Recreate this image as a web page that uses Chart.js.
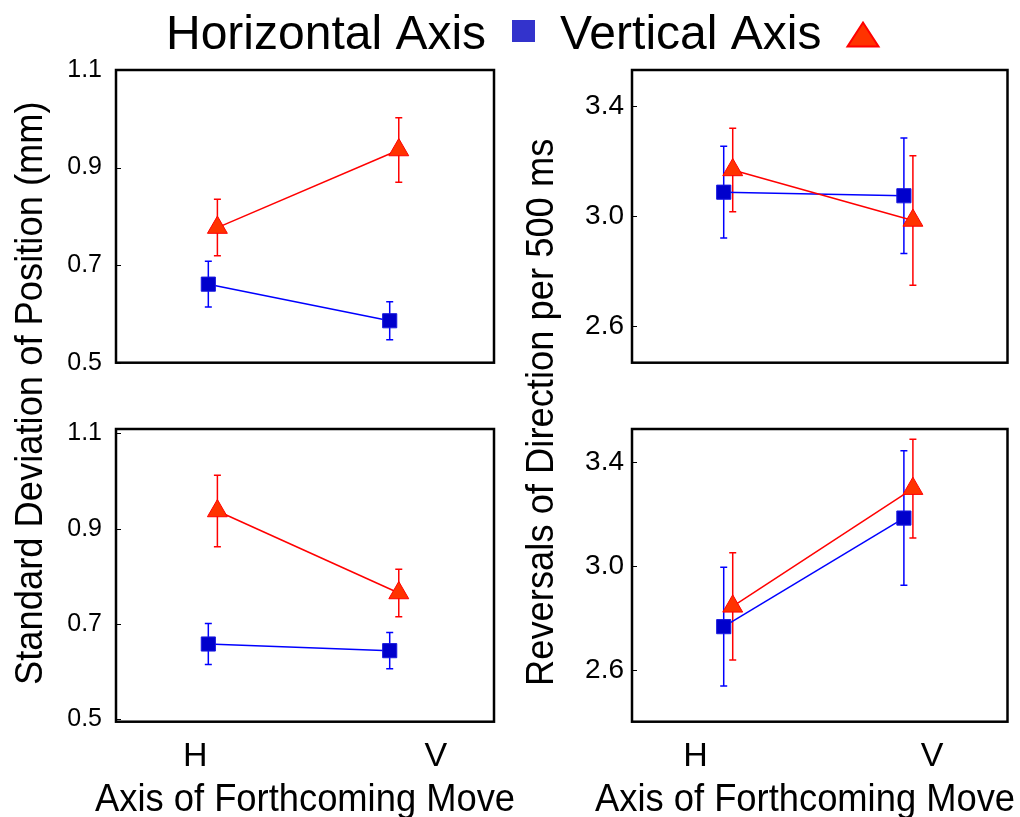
<!DOCTYPE html>
<html>
<head>
<meta charset="utf-8">
<script src="https://cdn.jsdelivr.net/npm/chart.js@4"></script>
<style>
  html, body { margin: 0; padding: 0; background: #fff; }
  #wrap { position: relative; width: 1020px; height: 817px; overflow: hidden; }
  #wrap canvas { position: absolute; left: 0; top: 0; }
</style>
</head>
<body>
<div id="wrap">
  <canvas id="sdTop" width="1020" height="817"></canvas>
  <canvas id="revTop" width="1020" height="817"></canvas>
  <canvas id="sdBot" width="1020" height="817"></canvas>
  <canvas id="revBot" width="1020" height="817"></canvas>
</div>
<script>
// Categories and series
const categories = ['H', 'V'];
const categoryX = [1, 2];
const seriesNames = ['Horizontal Axis', 'Vertical Axis'];

// Standard deviation of position (mm) - upper panel
const sdTopHoriz = [0.661, 0.586];
const sdTopHorizErr = [0.047, 0.039];
const sdTopVert = [0.777, 0.936];
const sdTopVertErr = [0.058, 0.066];

// Standard deviation of position (mm) - lower panel
const sdBotHoriz = [0.658, 0.644];
const sdBotHorizErr = [0.043, 0.038];
const sdBotVert = [0.937, 0.765];
const sdBotVertErr = [0.075, 0.050];

// Reversals of direction per 500 ms - upper panel
const revTopHoriz = [3.087, 3.074];
const revTopHorizErr = [0.167, 0.210];
const revTopVert = [3.168, 2.984];
const revTopVertErr = [0.152, 0.236];

// Reversals of direction per 500 ms - lower panel
const revBotHoriz = [2.767, 3.184];
const revBotHorizErr = [0.228, 0.258];
const revBotVert = [2.845, 3.297];
const revBotVertErr = [0.206, 0.190];

// Tick labels
const sdTicks = [0.5, 0.7, 0.9, 1.1];
const revTicks = [2.6, 3.0, 3.4];

const FONT = "'Liberation Sans', Arial, Helvetica, sans-serif";
const W = 1020, H = 817;
const BLUE = '#0000ff', RED = '#ff0000';
const X_MIN = 0.491, X_MAX = 2.575;
const DODGE = 0.05;

const panels = [
  { id: 'sdTop', box: [116, 70, 494, 362.7], yMin: 0.5, yMax: 1.1, ticks: sdTicks,
    horiz: sdTopHoriz, horizErr: sdTopHorizErr, vert: sdTopVert, vertErr: sdTopVertErr,
    labelPad: 14, tickFont: 25, xTicks: null },
  { id: 'revTop', box: [632, 70, 1010, 362.7], yMin: 2.466, yMax: 3.532, ticks: revTicks,
    horiz: revTopHoriz, horizErr: revTopHorizErr, vert: revTopVert, vertErr: revTopVertErr,
    labelPad: 8, tickFont: 28, xTicks: null },
  { id: 'sdBot', box: [116, 429, 494, 721.7], yMin: 0.495, yMax: 1.109, ticks: sdTicks,
    horiz: sdBotHoriz, horizErr: sdBotHorizErr, vert: sdBotVert, vertErr: sdBotVertErr,
    labelPad: 14, tickFont: 25, xTicks: [0.928, 2.255] },
  { id: 'revBot', box: [632, 429, 1010, 721.7], yMin: 2.402, yMax: 3.526, ticks: revTicks,
    horiz: revBotHoriz, horizErr: revBotHorizErr, vert: revBotVert, vertErr: revBotVertErr,
    labelPad: 8, tickFont: 28, xTicks: [0.844, 2.156] }
];

// error bars under the markers, frame and inward ticks on top
const framePlugin = {
  id: 'frame',
  beforeDatasetsDraw(chart) {
    const ctx = chart.ctx;
    const yScale = chart.scales.y;
    chart.data.datasets.forEach((ds, i) => {
      const meta = chart.getDatasetMeta(i);
      ctx.save();
      ctx.strokeStyle = ds.borderColor;
      ctx.lineWidth = 1.5;
      meta.data.forEach((pt, j) => {
        const v = ds.data[j].y, e = ds.errors[j];
        const yTop = yScale.getPixelForValue(v + e);
        const yBot = yScale.getPixelForValue(v - e);
        ctx.beginPath();
        ctx.moveTo(pt.x, yTop); ctx.lineTo(pt.x, yBot);
        ctx.moveTo(pt.x - 3.5, yTop); ctx.lineTo(pt.x + 3.5, yTop);
        ctx.moveTo(pt.x - 3.5, yBot); ctx.lineTo(pt.x + 3.5, yBot);
        ctx.stroke();
      });
      ctx.restore();
    });
  },
  afterDraw(chart) {
    const ctx = chart.ctx;
    const a = chart.chartArea;
    const yScale = chart.scales.y;
    ctx.save();
    ctx.strokeStyle = '#000';
    ctx.lineWidth = 1;
    yScale.ticks.forEach(t => {
      const py = Math.round(yScale.getPixelForValue(t.value)) + 0.5;
      ctx.beginPath();
      ctx.moveTo(a.left, py); ctx.lineTo(a.left + 5, py);
      ctx.stroke();
    });
    ctx.lineWidth = 2.5;
    ctx.strokeRect(a.left, a.top, a.right - a.left, a.bottom - a.top);
    ctx.restore();
  }
};

function squeezed(ctx, text, x, y, angle) {
  ctx.save();
  ctx.translate(x, y);
  ctx.rotate(angle);
  ctx.scale(0.92, 1);
  ctx.fillText(text, 0, 0);
  ctx.restore();
}

// legend across the top and the shared axis titles
const pageTextPlugin = {
  id: 'pageText',
  afterDraw(chart) {
    const ctx = chart.ctx;
    ctx.save();
    ctx.fillStyle = '#000';
    ctx.textBaseline = 'alphabetic';
    ctx.textAlign = 'left';
    ctx.font = '48px ' + FONT;
    ctx.fillText(seriesNames[0], 166, 49);
    ctx.fillText(seriesNames[1], 560, 49);

    ctx.fillStyle = '#3333cc';
    ctx.fillRect(512, 20, 23, 22);

    ctx.beginPath();
    ctx.moveTo(847.5, 46.5); ctx.lineTo(878.5, 46.5); ctx.lineTo(863, 22.5);
    ctx.closePath();
    ctx.fillStyle = '#ff3300';
    ctx.fill();
    ctx.strokeStyle = '#ff0000';
    ctx.lineWidth = 2;
    ctx.stroke();

    ctx.fillStyle = '#000';
    ctx.font = '39.5px ' + FONT;
    squeezed(ctx, 'Standard Deviation of Position (mm)', 42, 685, -Math.PI / 2);
    squeezed(ctx, 'Reversals of Direction per 500 ms', 553, 686, -Math.PI / 2);
    squeezed(ctx, 'Axis of Forthcoming Move', 95, 811, 0);
    squeezed(ctx, 'Axis of Forthcoming Move', 595, 811, 0);
    ctx.restore();
  }
};

function points(values, dodge) {
  return values.map((v, i) => ({ x: categoryX[i] + dodge, y: v }));
}

function buildPanel(p, withText) {
  const [l, t, r, b] = p.box;
  const xTicks = p.xTicks;
  // the y axis takes the whole left margin, the x axis (bottom row) the whole bottom margin
  const padBottom = xTicks ? 0 : H - b;
  return new Chart(document.getElementById(p.id), {
    type: 'line',
    data: {
      datasets: [
        {
          label: seriesNames[0],
          data: points(p.horiz, 0),
          errors: p.horizErr,
          borderColor: BLUE,
          borderWidth: 1.5,
          pointStyle: 'rect',
          pointRadius: 10,
          pointBackgroundColor: '#0000cc',
          pointBorderColor: '#1a1ae0',
          pointBorderWidth: 1,
          order: 2
        },
        {
          label: seriesNames[1],
          data: points(p.vert, DODGE),
          errors: p.vertErr,
          borderColor: RED,
          borderWidth: 1.5,
          pointStyle: 'triangle',
          pointRadius: 11.5,
          pointBackgroundColor: '#ff3300',
          pointBorderColor: '#ff0000',
          pointBorderWidth: 1,
          order: 1
        }
      ]
    },
    options: {
      responsive: false,
      animation: false,
      devicePixelRatio: 1,
      layout: { padding: { left: 0, top: t, right: W - r, bottom: padBottom } },
      plugins: { legend: { display: false }, tooltip: { enabled: false } },
      elements: { line: { tension: 0 } },
      scales: {
        x: {
          type: 'linear',
          min: X_MIN,
          max: X_MAX,
          display: !!xTicks,
          grid: { display: false, drawTicks: false },
          border: { display: false },
          afterBuildTicks: s => { if (xTicks) s.ticks = xTicks.map(v => ({ value: v })); },
          afterFit: s => { s.height = xTicks ? H - b : 0; },
          ticks: {
            autoSkip: false,
            maxRotation: 0,
            padding: 15,
            color: '#000',
            font: { size: 34, family: FONT },
            callback: (v, i) => categories[i]
          }
        },
        y: {
          type: 'linear',
          min: p.yMin,
          max: p.yMax,
          grid: { display: false, drawTicks: false },
          border: { display: false },
          afterBuildTicks: s => { s.ticks = p.ticks.map(v => ({ value: v })); },
          afterFit: s => { s.width = l; },
          ticks: {
            autoSkip: false,
            padding: p.labelPad,
            color: '#000',
            font: { size: p.tickFont, family: FONT },
            callback: v => v.toFixed(1)
          }
        }
      }
    },
    plugins: withText ? [framePlugin, pageTextPlugin] : [framePlugin]
  });
}

function build() {
  Chart.defaults.font.family = FONT;
  Chart.defaults.color = '#000';
  panels.forEach((p, i) => buildPanel(p, i === 0));
}

if (document.fonts && document.fonts.load) {
  document.fonts.load('48px "Liberation Sans"').then(build, build);
} else {
  build();
}
</script>
</body>
</html>
